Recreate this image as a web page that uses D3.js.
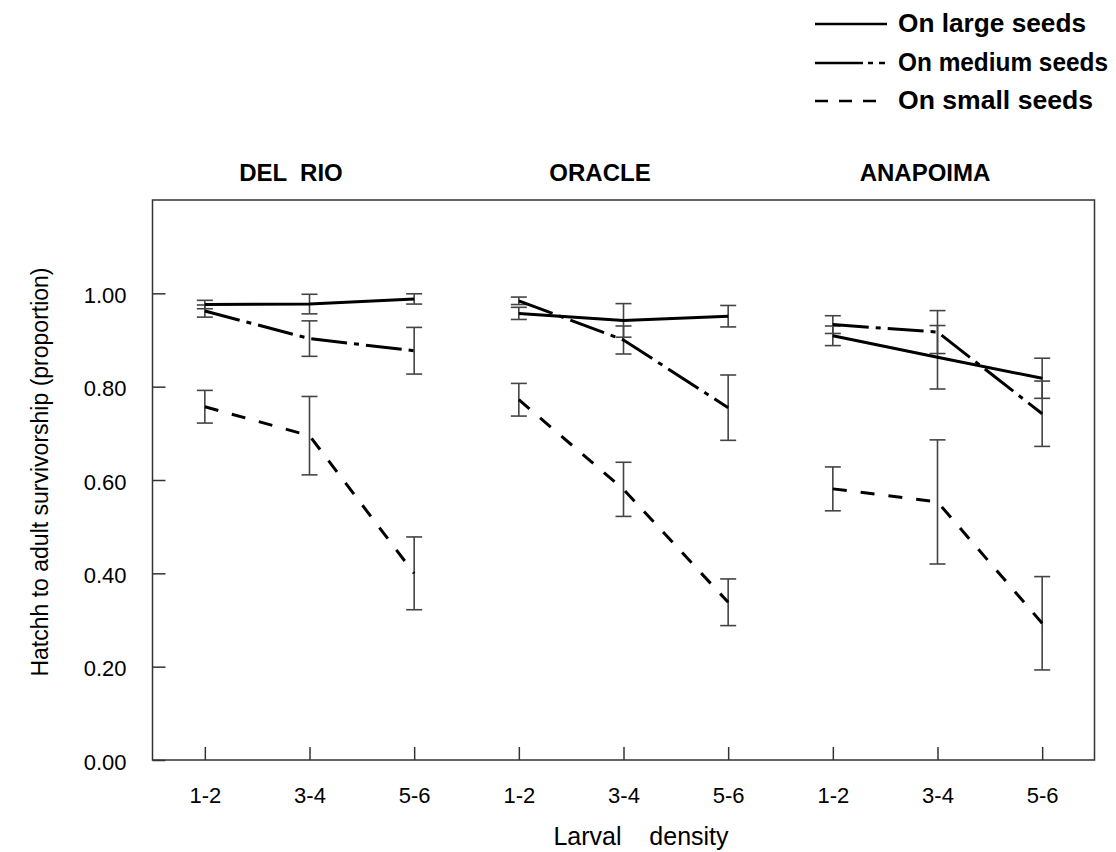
<!DOCTYPE html>
<meta charset="utf-8">
<style>
  body { margin: 0; background: white; }
  text { font-family: "Liberation Sans", Arial, sans-serif; fill: black; }
</style>
<script src="https://d3js.org/d3.v7.min.js"></script>

<div id="survival_viz"></div>

<script>
// data
var sites = ["DEL RIO", "ORACLE", "ANAPOIMA"];
var densities = ["1-2", "3-4", "5-6"];
var yTicks = [0, 0.2, 0.4, 0.6, 0.8, 1.0];

// means and error bar half-lengths, one value per site x density
var largeMean  = [0.976, 0.977, 0.988, 0.957, 0.942, 0.951, 0.909, 0.863, 0.818];
var largeErr   = [0.009, 0.021, 0.011, 0.013, 0.036, 0.023, 0.021, 0.068, 0.043];
var mediumMean = [0.962, 0.903, 0.877, 0.984, 0.900, 0.755, 0.933, 0.917, 0.742];
var mediumErr  = [0.013, 0.038, 0.050, 0.008, 0.030, 0.070, 0.019, 0.046, 0.070];
var smallMean  = [0.757, 0.695, 0.400, 0.772, 0.580, 0.338, 0.581, 0.553, 0.293];
var smallErr   = [0.035, 0.084, 0.078, 0.035, 0.058, 0.050, 0.047, 0.133, 0.100];

var seriesNames = ["On large seeds", "On medium seeds", "On small seeds"];

var width = 1116, height = 852;
var frame = {left: 152.5, right: 1094.5, top: 200, bottom: 760};

var svg = d3.select("#survival_viz")
  .append("svg")
    .attr("width", width)
    .attr("height", height);

// 9 slots: site x density
var slots = [];
sites.forEach(function(s, i) {
  densities.forEach(function(d, j) { slots.push({site: s, dens: d, key: i + "_" + j}); });
});

var x = d3.scalePoint()
  .domain(slots.map(function(d) { return d.key; }))
  .range([frame.left, frame.right])
  .padding(0.5);

var y = d3.scaleLinear()
  .domain([0, 1.2])
  .range([frame.bottom, frame.top]);

// frame
svg.append("rect")
  .attr("x", frame.left)
  .attr("y", frame.top)
  .attr("width", frame.right - frame.left)
  .attr("height", frame.bottom - frame.top)
  .style("fill", "none")
  .style("stroke", "#333")
  .style("stroke-width", 1.5);

// y axis, ticks pointing inward
var yAxis = svg.append("g")
  .attr("transform", "translate(" + frame.left + ",0)")
  .call(d3.axisRight(y).tickValues(yTicks).tickSize(13).tickFormat(d3.format(".2f")));
yAxis.select(".domain").remove();
yAxis.selectAll(".tick line").style("stroke", "#333").style("stroke-width", 1.5);
yAxis.selectAll(".tick text")
  .attr("x", -26)
  .attr("dy", "0.42em")
  .style("text-anchor", "end")
  .style("font-size", "22px");

// x axis, ticks pointing up
var xAxis = svg.append("g")
  .attr("transform", "translate(0," + frame.bottom + ")")
  .call(d3.axisTop(x).tickSize(13).tickFormat(function(k) { return densities[+k.split("_")[1]]; }));
xAxis.select(".domain").remove();
xAxis.selectAll(".tick line").style("stroke", "#333").style("stroke-width", 1.5);
xAxis.selectAll(".tick text")
  .attr("y", 43)
  .attr("dy", 0)
  .style("font-size", "22px");

// site titles
var titleX = [291, 600, 925];
svg.selectAll(".site-title")
  .data(sites)
  .enter()
  .append("text")
    .attr("class", "site-title")
    .attr("x", function(d, i) { return titleX[i]; })
    .attr("y", 181)
    .attr("text-anchor", "middle")
    .style("font-size", "24px")
    .style("font-weight", "bold")
    .style("white-space", "pre")
    .text(function(d) { return d.replace(" ", "  "); });

// axis titles
svg.append("text")
  .attr("transform", "translate(48,472) rotate(-90)")
  .attr("text-anchor", "middle")
  .style("font-size", "23px")
  .text("Hatchh to adult survivorship (proportion)");

svg.append("text")
  .attr("x", 641)
  .attr("y", 845)
  .attr("text-anchor", "middle")
  .style("font-size", "25px")
  .style("white-space", "pre")
  .text("Larval    density");

// series
var dashes = ["none", "36,7,5,7", "14,14"];
var series = [
  {name: seriesNames[0], mean: largeMean, err: largeErr, dash: dashes[0]},
  {name: seriesNames[1], mean: mediumMean, err: mediumErr, dash: dashes[1]},
  {name: seriesNames[2], mean: smallMean, err: smallErr, dash: dashes[2]}
];

// error bars first so lines sit on top
series.forEach(function(s) {
  var g = svg.append("g");
  slots.forEach(function(slot, i) {
    var cx = x(slot.key), hi = y(s.mean[i] + s.err[i]), lo = y(s.mean[i] - s.err[i]);
    g.append("line").attr("x1", cx).attr("x2", cx).attr("y1", hi).attr("y2", lo);
    g.append("line").attr("x1", cx - 8).attr("x2", cx + 8).attr("y1", hi).attr("y2", hi);
    g.append("line").attr("x1", cx - 8).attr("x2", cx + 8).attr("y1", lo).attr("y2", lo);
  });
  g.selectAll("line").style("stroke", "#444").style("stroke-width", 1.6);
});

var line = d3.line()
  .x(function(d) { return x(d.key); })
  .y(function(d) { return y(d.v); });

series.forEach(function(s) {
  sites.forEach(function(site, si) {
    var pts = densities.map(function(d, j) {
      var i = si * 3 + j;
      return {key: slots[i].key, v: s.mean[i]};
    });
    svg.append("path")
      .datum(pts)
      .attr("d", line)
      .style("fill", "none")
      .style("stroke", "black")
      .style("stroke-width", 3)
      .style("stroke-dasharray", s.dash);
  });
});

// legend (text widths forced to the reference's, its face is tighter than Arial)
var legendY = [24, 63, 101];
var legendDash = ["none", "48,5,5,6,6", "13,11"];
var legendWidth = [188, 210, 195];
var legend = svg.selectAll(".legend")
  .data(seriesNames)
  .enter()
  .append("g")
    .attr("class", "legend")
    .attr("transform", function(d, i) { return "translate(0," + legendY[i] + ")"; });

legend.append("line")
  .attr("x1", 815)
  .attr("x2", function(d, i) { return i == 0 ? 887 : (i == 1 ? 885 : 876); })
  .style("stroke", "black")
  .style("stroke-width", 2.5)
  .style("stroke-dasharray", function(d, i) { return legendDash[i]; });

legend.append("text")
  .attr("x", 898)
  .attr("y", 8)
  .attr("textLength", function(d, i) { return legendWidth[i]; })
  .attr("lengthAdjust", "spacingAndGlyphs")
  .style("font-size", "25px")
  .style("font-weight", "bold")
  .text(function(d) { return d; });
</script>
